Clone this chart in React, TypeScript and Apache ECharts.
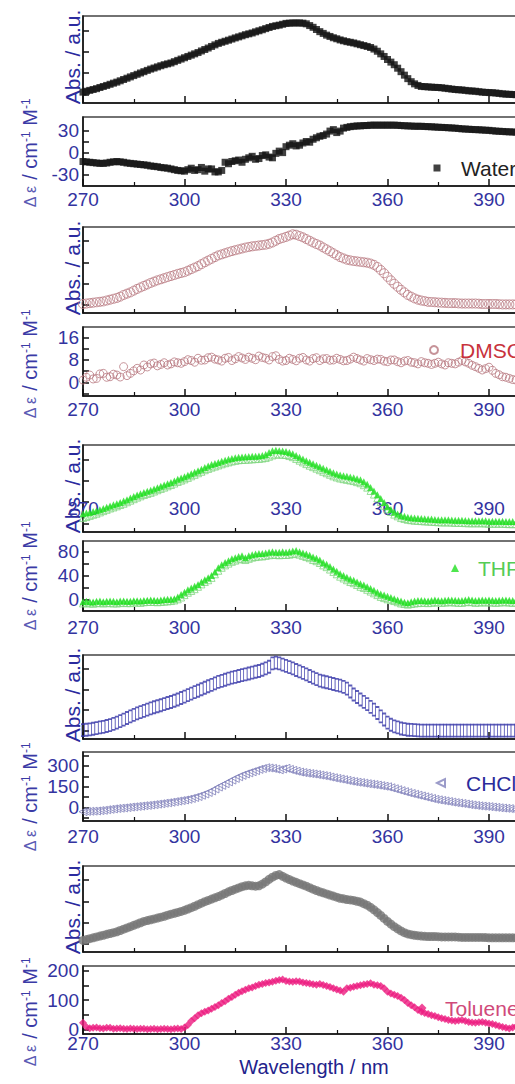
import React, { useEffect, useRef } from 'react';
import * as echarts from 'echarts';

// Wavelength grid (nm), 1 nm step
const wavelengths = [
  270, 271, 272, 273, 274, 275, 276, 277, 278, 279,
  280, 281, 282, 283, 284, 285, 286, 287, 288, 289,
  290, 291, 292, 293, 294, 295, 296, 297, 298, 299,
  300, 301, 302, 303, 304, 305, 306, 307, 308, 309,
  310, 311, 312, 313, 314, 315, 316, 317, 318, 319,
  320, 321, 322, 323, 324, 325, 326, 327, 328, 329,
  330, 331, 332, 333, 334, 335, 336, 337, 338, 339,
  340, 341, 342, 343, 344, 345, 346, 347, 348, 349,
  350, 351, 352, 353, 354, 355, 356, 357, 358, 359,
  360, 361, 362, 363, 364, 365, 366, 367, 368, 369,
  370, 371, 372, 373, 374, 375, 376, 377, 378, 379,
  380, 381, 382, 383, 384, 385, 386, 387, 388, 389,
  390, 391, 392, 393, 394, 395, 396, 397, 398,
];

const waterAbs = [
  12.5, 13.5, 14.5, 15.5, 16.5, 17.8, 19, 20.2, 21.5, 22.8,
  24, 25.5, 27, 28.5, 30, 31.5, 33, 34.5, 36, 37.5,
  39, 40.2, 41.5, 42.8, 44, 45, 46, 47.5, 49, 50.5,
  52, 53.5, 55, 56.5, 58, 59.8, 61.5, 63.2, 65, 66.8,
  68.5, 69.8, 71, 72.2, 73.5, 74.8, 76, 77.2, 78.5, 79.5,
  80.5, 81.8, 83, 84.2, 85.5, 86.8, 88, 88.8, 89.5, 90.5,
  91.5, 91.8, 92, 92, 92, 91.8, 91, 89, 87, 84.5,
  82, 80, 78, 76.5, 75, 73.8, 72.5, 71.5, 70.5, 69.8,
  69, 68, 67, 66, 65, 63.8, 62, 59.5, 56.5, 53.5,
  50, 47, 44, 40, 36, 32, 28, 24.5, 22, 20.2,
  19, 18.8, 18.5, 18.2, 18, 17.8, 17.5, 17, 16.5, 16,
  15.5, 15.2, 15, 14.5, 14, 13.8, 13.5, 13, 12.5, 12.2,
  12, 11.8, 11.5, 11, 10.5, 10.2, 10, 9.8, 9.5,
];
const waterCD = [
  -12, -12.5, -13, -13.5, -14, -14.5, -14.5, -14, -13, -12.5,
  -12, -12.5, -13, -14, -14.5, -15, -15.5, -16, -16.5, -17,
  -18, -18.5, -19, -20, -20.5, -21, -22, -23, -24, -24.5,
  -25, -23, -21, -24, -23, -20, -25, -22, -22, -26,
  -26, -24, -13, -15, -12, -11, -10, -13, -9, -7,
  -5, -9, -8, -4, -3, -6, -7, -1, 2, 0,
  8, 10, 12, 9, 10, 13, 15, 14, 18, 20,
  22, 23, 25, 29, 31, 27, 29, 33, 34, 35,
  35.5, 36, 36, 36.5, 36.5, 37, 37, 37, 37, 37,
  37, 37, 37, 36.8, 36.5, 36.2, 36, 35.8, 35.5, 35.5,
  35.5, 35.2, 35, 34.8, 34.5, 34.2, 34, 33.8, 33.5, 33.2,
  33, 32.5, 32, 31.8, 31.5, 31.2, 31, 30.8, 30.5, 30.2,
  30, 29.5, 29, 28.8, 28.5, 28.2, 28, 27.8, 27.5,
];
const dmsoAbs = [
  10.5, 11, 11.5, 12, 12.5, 13, 13.5, 14.5, 15.5, 16.5,
  17.5, 19, 21, 22.5, 24, 26, 28, 29.8, 31.5, 33.2,
  35, 36.5, 38, 39.2, 40.5, 41.8, 43, 44.2, 45.5, 46.5,
  47.5, 49.2, 51, 52.8, 54.5, 56.8, 59, 61, 63, 65,
  67, 68.2, 69.5, 70.8, 72, 73, 74, 75, 76, 76.8,
  77.5, 78, 78.5, 79, 79.5, 80.5, 82, 84, 86, 87.2,
  88.5, 90, 91.5, 91, 89.5, 88, 86, 84, 82, 80.2,
  78.5, 76.2, 74, 71.8, 69.5, 67.2, 65, 63.5, 62, 61.2,
  60.5, 60, 59.5, 59, 58.5, 57.5, 56, 53.5, 50, 46.2,
  42, 38, 34, 30.5, 27, 24, 21, 19, 17, 15.5,
  14.5, 13.8, 13, 12.8, 12.5, 12.2, 12, 11.8, 11.5, 11.5,
  11.5, 11.2, 11, 11, 11, 11, 11, 10.8, 10.5, 10.5,
  10.5, 10.5, 10.5, 10.2, 10, 10, 10, 10, 10,
];
const dmsoCD = [
  0.8, 1.8, 2.6, 1.2, 1.4, 3.0, 3.2, 1.8, 2, 2.9,
  2.6, 1.9, 5.6, 2.4, 3.2, 4.1, 5, 4.4, 6.2, 5.5,
  6.6, 6.9, 5.9, 6.4, 7, 6.2, 6.6, 7.3, 7, 6.8,
  7.4, 8.1, 7.8, 7.2, 8.6, 7.9, 8, 8.8, 9, 8.3,
  8, 7.6, 8.6, 8.9, 7.8, 8.4, 9.2, 8.7, 8.2, 9.0,
  8.6, 8.1, 9.4, 8.9, 8.6, 8.0, 9.2, 9.5, 8.2, 7.6,
  7.8, 8.6, 8.2, 7.7, 8.6, 8.9, 8, 7.6, 8.5, 8.8,
  7.8, 8.4, 8.5, 7.9, 8, 8.6, 8.2, 7.7, 7.8, 8.3,
  9, 8.5, 8, 7.6, 8.5, 8.1, 7.8, 8.3, 8.2, 7.6,
  7.4, 8.0, 8, 7.4, 7, 7.6, 7.8, 7.2, 7, 6.6,
  7.4, 7.0, 6.8, 6.4, 6.8, 7.2, 6.6, 6.2, 7, 6.8,
  6.6, 7.2, 7.8, 7.3, 6.8, 6.1, 5.6, 5.0, 4.4, 4.9,
  5.4, 4.3, 3.2, 2.7, 2, 1.8, 1.4, 1.0, 0.8,
];
const thfAbsA = [
  21, 21.7, 22.5, 23.5, 24.5, 25.7, 27, 28.5, 30, 31.2,
  32.5, 34, 35.5, 37.2, 39, 40.7, 42.5, 44, 45.5, 46.8,
  48, 49.5, 51, 52.5, 54, 55.5, 57, 58.7, 60.5, 62,
  63.5, 65.2, 67, 68.7, 70.5, 72.2, 74, 75.8, 77.5, 78.8,
  80, 81.2, 82.5, 83.5, 84.5, 85.3, 86, 86.3, 86.5, 86.8,
  87, 87.2, 87.5, 88, 89, 91.5, 93.5, 94, 93.5, 93,
  92.5, 91.3, 90, 88, 86, 84, 82, 80.2, 78.5, 76.8,
  75, 73.2, 71.5, 69.8, 68, 66.7, 65.5, 64.7, 64, 63.2,
  62.5, 61.3, 60, 57.8, 55, 51.2, 47, 42.8, 38.5, 33.8,
  29, 25.8, 23, 20.8, 19, 18, 17, 16.5, 16, 15.8,
  15.5, 15.2, 15, 14.8, 14.5, 14.2, 14, 14, 14, 13.8,
  13.5, 13.5, 13.5, 13.2, 13, 13, 13, 13, 13, 12.8,
  12.5, 12.5, 12.5, 12.5, 12.5, 12.2, 12, 12, 12,
];
const thfAbsB = [
  16, 17.2, 18.5, 19.8, 21, 22.5, 24, 25.5, 27, 28.2,
  29.5, 31, 32.5, 34.2, 36, 37.7, 39.5, 41, 42.5, 43.8,
  45, 46.5, 48, 49.5, 51, 52.5, 54, 55.7, 57.5, 59,
  60.5, 62.2, 64, 65.7, 67.5, 69.2, 71, 72.5, 74, 75.2,
  76.5, 77.8, 79, 80, 81, 81.8, 82.5, 82.8, 83, 83.2,
  83.5, 83.8, 84, 84.5, 85, 86.5, 88, 89, 89, 88.8,
  88.5, 87.3, 86, 84, 82, 80, 78, 76.2, 74.5, 72.8,
  71, 69.2, 67.5, 65.8, 64, 62.7, 61.5, 60.7, 60, 59.2,
  58.5, 57.3, 56, 53.8, 51, 47.2, 43, 38.8, 34.5, 30.2,
  26, 23, 20, 18, 16, 15, 14, 13.5, 13, 12.8,
  12.5, 12.2, 12, 11.8, 11.5, 11.2, 11, 11, 11, 10.8,
  10.5, 10.5, 10.5, 10.2, 10, 10, 10, 10, 10, 9.8,
  9.5, 9.5, 9.5, 9.5, 9.5, 9.2, 9, 9, 9,
];
const thfCDA = [
  -4, -3.5, -4, -4.5, -3.5, -3, -4, -3.5, -3, -3.5,
  -4, -3, -3, -3.5, -3.5, -2.5, -2.5, -3, -2, -1.5,
  -1, -1.5, -2, -1, -0.5, 0, 0, 1, 4, 8,
  12, 16, 19, 22, 25, 29, 33, 36, 40, 46,
  53, 58, 62, 65, 68, 70, 72, 73, 70, 73,
  75, 76, 77, 77, 78, 79, 80, 79, 79, 80,
  79, 80, 81, 82, 80, 78, 76, 74, 71, 69,
  66, 62, 59, 55, 51, 47, 43, 40, 37, 34,
  32, 29, 26, 24, 21, 18, 15, 12, 9, 7,
  5, 3, 1, -1, -3, -5, -6, -4, -3, -2,
  -2, -2.5, -3, -2, -1, -2, -2.5, -1.5, -1, -1,
  -1.5, -2, -2, -1, -0.5, -1, -2, -1.5, -1, -1.5,
  -1, -1.5, -2, -1.5, -1, -1, -1.5, -2, -1.5,
];
const thfCDB = [
  -7, -6.5, -7, -7.5, -6.5, -6.5, -7, -6.5, -6.5, -7,
  -7, -6.5, -6, -6.5, -6.5, -5.5, -5.5, -6, -5, -4.5,
  -4.5, -4.5, -5, -4.5, -4, -3.5, -3, -2, 0, 3,
  7, 11, 14, 17, 21, 25, 29, 32, 36, 42,
  48, 53, 57, 60, 63, 65, 67, 68, 66, 68,
  70, 71, 72, 72, 73, 74, 75, 74.5, 74, 74.5,
  74.5, 75, 76, 77, 75, 73, 71, 69, 66, 64,
  61, 57, 54, 50, 46, 42, 38, 35, 32, 29,
  27, 24, 21, 19, 16, 13, 10, 7, 4, 2,
  0, -1.5, -3, -5, -7, -8, -9, -8, -7, -6.5,
  -6, -6, -6.5, -6, -5, -5.5, -6, -5.5, -5, -5,
  -5.5, -6, -6, -5, -4.5, -5, -6, -5.5, -5, -5.5,
  -5, -5.5, -6, -5.5, -5, -5, -5.5, -6, -5.5,
];
const chclAbs = [
  10.5, 11, 11.5, 12.2, 13, 13.8, 14.5, 15.5, 16.5, 18,
  19.5, 21.2, 23, 25, 27, 28.8, 30.5, 32, 33.5, 35,
  36.5, 37.8, 39, 40.2, 41.5, 42.8, 44, 45.5, 47, 48.8,
  50.5, 52.2, 54, 55.8, 57.5, 59.2, 61, 62.8, 64.5, 66.2,
  68, 69.2, 70.5, 71.8, 73, 74, 75, 76, 77, 78,
  79, 80, 81, 82.5, 84, 86, 90, 91, 90, 88.5,
  87, 85.5, 84, 82.2, 80.5, 78.8, 77, 75, 73, 71.2,
  69.5, 68.5, 67.5, 66.5, 65.5, 64.5, 63.5, 62, 60, 56.5,
  53, 50, 47, 44.2, 41.5, 38.2, 35, 31, 27, 23.2,
  19.5, 17, 15, 13.8, 12.5, 11.8, 11, 10.8, 10.5, 10.2,
  10, 10, 10, 10, 10, 10, 10, 10, 10, 10,
  10, 10, 10, 10, 10, 10, 10, 10, 10, 10,
  10, 10, 10, 10, 10, 10, 10, 10, 10,
];
const chclCD = [
  -29, -27, -26, -25, -24, -21, -19, -15, -12, -9,
  -6, -4, -2, 1, 4, 6, 9, 11, 14, 16,
  19, 22, 25, 28, 32, 35, 39, 43, 47, 51,
  55, 60, 66, 73, 80, 89, 98, 109, 120, 134,
  148, 160, 172, 185, 198, 210, 222, 232, 242, 250,
  258, 266, 275, 281, 287, 285, 282, 277, 272, 278,
  283, 275, 268, 262, 256, 252, 248, 245, 242, 238,
  234, 230, 226, 220, 215, 210, 206, 201, 196, 191,
  187, 183, 180, 176, 172, 169, 166, 162, 158, 154,
  150, 143, 136, 129, 122, 115, 108, 102, 96, 90,
  84, 78, 72, 66, 60, 56, 52, 48, 44, 40,
  36, 33, 30, 26, 22, 19, 16, 13, 11, 9,
  7, 4, 2, -1, -3, -5, -7, -10, -12,
];
const tolAbs = [
  13.5, 14.5, 15.5, 16.5, 17.5, 18.5, 19.5, 20.5, 21.5, 22.5,
  23.5, 25, 26.5, 28, 29.5, 31, 32.5, 34, 35.5, 36.5,
  37.5, 38.5, 39.5, 40.5, 41.5, 42.8, 44, 45, 46, 47.2,
  48.5, 50, 51.5, 53.2, 55, 56.8, 58.5, 60, 61.5, 63,
  64.5, 66.2, 68, 70, 71.5, 73, 74.5, 76, 77, 77.5,
  77, 76.5, 77, 79, 81.5, 84.5, 87, 89, 90, 88,
  86, 84.2, 82.5, 81, 79.5, 78, 76.5, 74.8, 73, 71.5,
  70, 68.8, 67.5, 66.2, 65, 63.8, 62.5, 61.8, 61, 60.5,
  60, 59, 58, 56.2, 54.5, 52, 49, 45.8, 42.5, 39,
  35.5, 32.5, 29.5, 27, 24.5, 22.5, 21, 20.2, 19.5, 19,
  18.5, 18.2, 18, 18, 18, 17.8, 17.5, 17.5, 17.5, 17.5,
  17.5, 17.2, 17, 17, 17, 17, 17, 17, 17, 16.8,
  16.5, 16.5, 16.5, 16.5, 16.5, 16.5, 16.5, 16.5, 16.5,
];
const tolCD = [
  22, 8, 4, 5, 6, 4, 3, 5, 5, 2,
  3, 4, 2, 1, 3, 2, 1, 2, 2, 0,
  1, 2, 0, 1, 2, 1, 0, 2, 3, 1,
  6, 15, 28, 38, 48, 55, 60, 64, 70, 76,
  82, 90, 96, 104, 110, 118, 125, 130, 135, 140,
  143, 148, 152, 155, 158, 160, 162, 166, 168, 170,
  165, 163, 162, 164, 163, 160, 158, 156, 154, 152,
  155, 151, 148, 144, 140, 136, 132, 128, 140, 142,
  145, 148, 150, 153, 155, 157, 152, 150, 148, 140,
  128, 122, 118, 114, 108, 100, 90, 82, 75, 66,
  60, 56, 52, 48, 45, 41, 38, 35, 32, 30,
  28, 30, 32, 28, 25, 23, 22, 24, 25, 22,
  20, 18, 15, 11, 8, 5, 3, 6, 10,
];

// Tick labels
const xTickLabels = [270, 300, 330, 360, 390, 420];
const absTicks = [10, 34.5, 59, 83.5];
const waterTicks = [-30, -15, 0, 15, 30];
const waterLabels = [-30, 0, 30];
const dmsoTicks = [-4, 0, 4, 8, 12, 16];
const dmsoLabels = [0, 8, 16];
const thfTicks = [0, 20, 40, 60, 80];
const thfLabels = [0, 40, 80];
const chclTicks = [-75, 0, 75, 150, 225, 300, 375];
const chclLabels = [0, 150, 300];
const tolTicks = [0, 50, 100, 150, 200];
const tolLabels = [0, 100, 200];
const solvents = ['Water', 'DMSO', 'THF', 'CHCl3', 'Toluene'];

const FONT = "'Liberation Sans', Arial, sans-serif";
const BLUE = '#33339f';

export default function App() {
  const ref = useRef<HTMLDivElement>(null);

  useEffect(() => {
    const chart = echarts.init(ref.current!, null, { renderer: 'svg' });
    const pts = (v: number[]) => wavelengths.map((w, i) => [w, v[i]]);

    const layout = [
      { top: 16, height: 87 }, { top: 117, height: 69 },
      { top: 227, height: 86 }, { top: 327, height: 69 },
      { top: 445, height: 87 }, { top: 541, height: 70 },
      { top: 655, height: 84 }, { top: 752, height: 69 },
      { top: 866, height: 86 }, { top: 966, height: 68 },
    ];
    const grid = layout.map((l) => ({
      left: 83, top: l.top, width: 507.5, height: l.height,
      show: true, borderColor: '#444', borderWidth: 1.5, backgroundColor: 'transparent',
    }));
    const xLabelMargin: (number | null)[] = [null, 4, null, 4, -33, 7, null, 6, null, 0];
    const xAxis = layout.map((_, i) => ({
      gridIndex: i, type: 'value', min: xTickLabels[0], max: xTickLabels[xTickLabels.length - 1], interval: 30,
      axisLine: { show: true, onZero: false, lineStyle: { color: '#111', width: 1.5 } },
      axisTick: { show: true, inside: true, length: 7, lineStyle: { color: '#111', width: 1.5 } },
      minorTick: { show: true, splitNumber: 2, length: 4, lineStyle: { color: '#111', width: 1.2 } },
      axisLabel: {
        show: xLabelMargin[i] !== null, margin: xLabelMargin[i] ?? 0,
        color: BLUE, fontSize: 19, fontFamily: FONT,
      },
      splitLine: { show: false }, minorSplitLine: { show: false },
    }));

    const deltaAxes = [
      { min: -45, max: 48, ticks: waterTicks, labels: waterLabels },
      { min: -4.9, max: 19.8, ticks: dmsoTicks, labels: dmsoLabels },
      { min: -19.7, max: 98, ticks: thfTicks, labels: thfLabels },
      { min: -96, max: 400, ticks: chclTicks, labels: chclLabels },
      { min: -16, max: 216, ticks: tolTicks, labels: tolLabels },
    ];
    const yAxis: any[] = [];
    for (let p = 0; p < 5; p++) {
      yAxis.push({
        gridIndex: 2 * p, type: 'value', min: 0, max: 100,
        axisLine: { show: true, onZero: false, lineStyle: { color: '#111', width: 1.5 } },
        axisTick: { show: true, inside: true, length: 6, customValues: absTicks, lineStyle: { color: '#111', width: 1.5 } },
        axisLabel: { show: false },
        splitLine: { show: false },
      });
      const d = deltaAxes[p];
      yAxis.push({
        gridIndex: 2 * p + 1, type: 'value', min: d.min, max: d.max,
        axisLine: { show: true, onZero: false, lineStyle: { color: '#111', width: 1.5 } },
        axisTick: { show: true, inside: true, length: 6, customValues: d.ticks, lineStyle: { color: '#111', width: 1.5 } },
        axisLabel: { show: true, customValues: d.labels, margin: 4, color: BLUE, fontSize: 19, fontFamily: FONT },
        splitLine: { show: false },
      });
    }

    const open = (c: string) => ({ color: 'rgba(0,0,0,0)', borderColor: c, borderWidth: 1 });
    const sc = (name: string, idx: number, data: number[], symbol: string, size: any, itemStyle: any, extra: any = {}) => ({
      name, type: 'scatter', xAxisIndex: idx, yAxisIndex: idx, data: pts(data),
      symbol, symbolSize: size, itemStyle, silent: true, ...extra,
    });

    const series = [
      sc('Water Abs', 0, waterAbs, 'rect', 7, { color: '#111' }),
      sc(solvents[0], 1, waterCD, 'rect', 7, { color: '#111' }),
      sc('DMSO Abs', 2, dmsoAbs, 'circle', 9, open('#b87880')),
      sc(solvents[1], 3, dmsoCD, 'circle', 8, open('#b87880')),
      sc('THF Abs 2', 4, thfAbsB, 'triangle', 7, open('#7ed67e')),
      sc('THF Abs', 4, thfAbsA, 'triangle', 7, { color: '#22e022' }),
      sc('THF CD 2', 5, thfCDB, 'triangle', 7, open('#7ed67e')),
      sc(solvents[2], 5, thfCDA, 'triangle', 7, { color: '#22e022' }),
      sc('CHCl3 Abs', 6, chclAbs, 'rect', [3.5, 12], open('#3535a8')),
      sc(solvents[3], 7, chclCD, 'triangle', 8, open('#8282bb'), { symbolRotate: 90 }),
      sc('Toluene Abs', 8, tolAbs, 'circle', 9, { color: '#777777' }),
      sc(solvents[4], 9, tolCD, 'diamond', 8, { color: '#ec1c80' }),
    ];

    const lg = (data: any, left: number, top: number, size: number, color: string, padLeft: number, extra: any = {}) => ({
      data: [data], left, top, itemWidth: size, itemHeight: size, padding: 0,
      selectedMode: false, orient: 'horizontal',
      textStyle: { fontSize: 21, color, fontFamily: FONT, padding: [0, 0, 0, padLeft] },
      ...extra,
    });
    const legend = [
      lg('Water', 433.5, 157.5, 7, '#222222', 15.5),
      lg('DMSO', 429, 339.5, 8, '#c8323c', 17),
      lg('THF', 451, 557.5, 8, '#55cc55', 14),
      lg({ name: 'CHCl3', icon: 'path://M0,5L10,0L10,10Z' }, 436, 772.5, 8, '#2b2b9b', 16, {
        formatter: () => '{a|CHCl}{b|3}',
        textStyle: {
          fontSize: 21, color: '#2b2b9b', fontFamily: FONT, padding: [0, 0, 0, 16],
          rich: { a: { fontSize: 21, color: '#2b2b9b', fontFamily: FONT }, b: { fontSize: 13, color: '#2b2b9b', fontFamily: FONT, verticalAlign: 'bottom' } },
        },
      }),
      lg('Toluene', 417.5, 997.5, 9, '#d04a7a', 13.5),
    ];

    const absCenters = [57, 268, 486, 695, 907];
    const cdCenters = [153, 364, 576, 797, 1012];
    const graphic: any[] = [];
    absCenters.forEach((cy) => {
      graphic.push({
        type: 'text', x: 72, y: cy, rotation: Math.PI / 2, silent: true,
        style: {
          text: 'Abs. / a.u.', fontSize: 21, fontFamily: FONT, fill: '#2b2b9e',
          align: 'center', verticalAlign: 'middle', textAlign: 'center', textVerticalAlign: 'middle',
        },
      });
    });
    cdCenters.forEach((cy) => {
      graphic.push({
        type: 'text', x: 30, y: cy, rotation: Math.PI / 2, silent: true,
        style: {
          text: '{d|Δ ε} {n|/ cm}{s|-1}{n| M}{s|-1}',
          fontSize: 20, fontFamily: FONT, fill: '#3a3aa6',
          align: 'center', verticalAlign: 'middle', textAlign: 'center', textVerticalAlign: 'middle',
          rich: {
            d: { fontSize: 16, fontFamily: FONT, fill: '#5a5ab4' },
            n: { fontSize: 20, fontFamily: FONT, fill: '#3a3aa6' },
            s: { fontSize: 12, fontFamily: FONT, fill: '#3a3aa6', verticalAlign: 'top' },
          },
        },
      });
    });
    graphic.push({
      type: 'text', x: 314, y: 1067, silent: true,
      style: {
        text: 'Wavelength / nm', fontSize: 20, fontFamily: FONT, fill: '#23238c',
        align: 'center', verticalAlign: 'middle', textAlign: 'center', textVerticalAlign: 'middle',
      },
    });

    chart.setOption({
      animation: false,
      backgroundColor: '#ffffff',
      textStyle: { fontFamily: FONT },
      grid, xAxis, yAxis, series, legend, graphic,
    });
    return () => chart.dispose();
  }, []);

  return (
    <div style={{ position: 'fixed', left: 0, top: 0, width: 515, height: 1084, overflow: 'hidden', background: '#fff' }}>
      <div ref={ref} style={{ width: 620, height: 1084 }} />
    </div>
  );
}
